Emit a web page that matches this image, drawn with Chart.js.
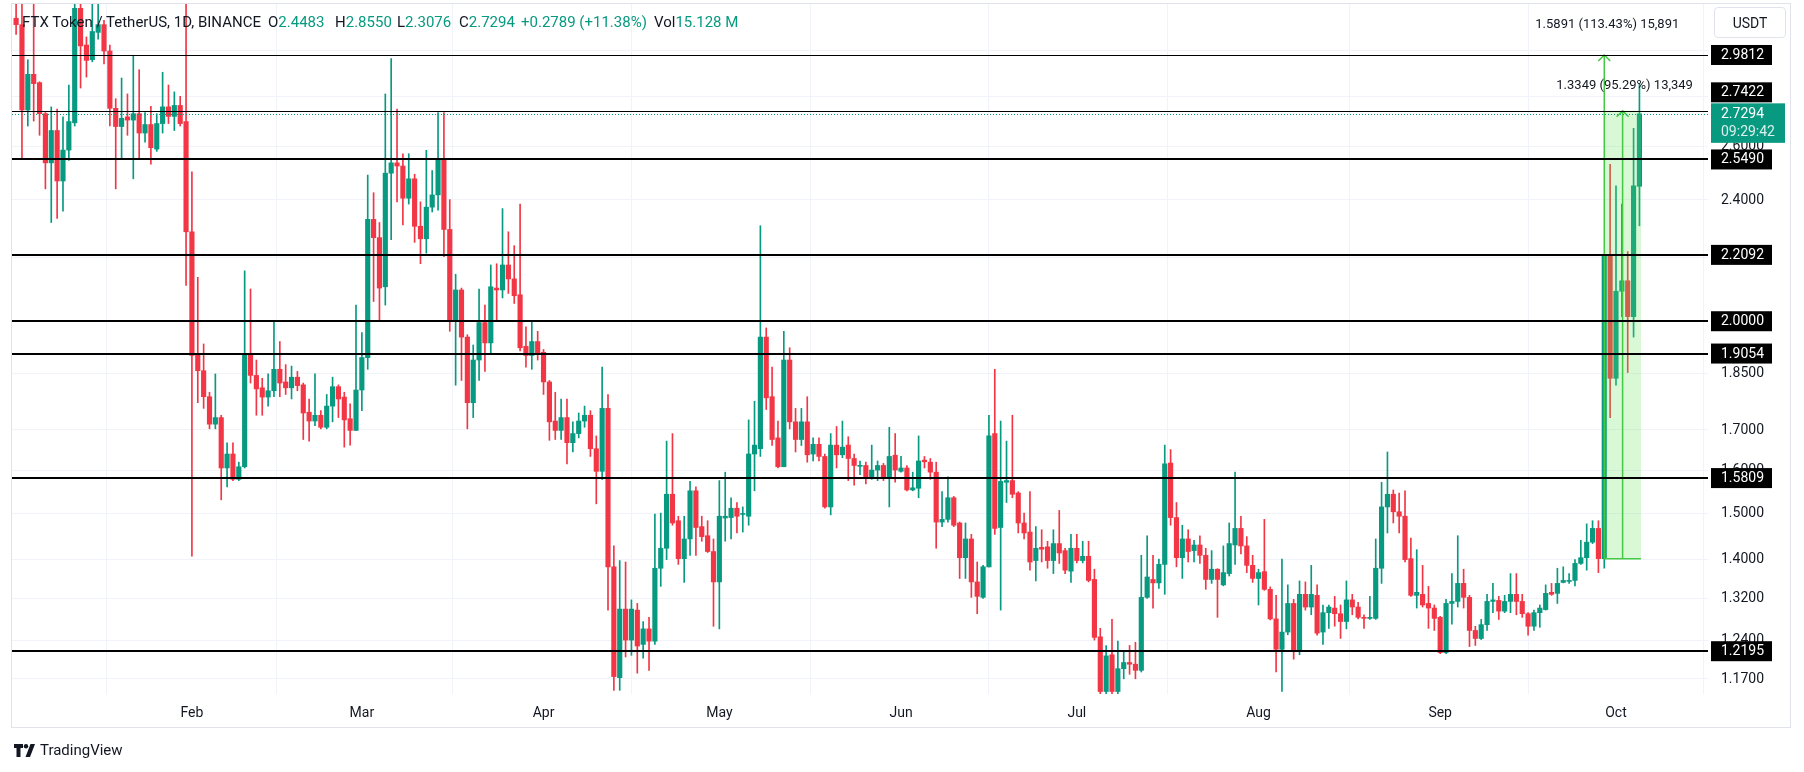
<!DOCTYPE html>
<html>
<head>
<meta charset="utf-8">
<script src="https://cdn.jsdelivr.net/npm/chart.js@4.4.1/dist/chart.umd.min.js"></script>
<style>
  html, body { margin: 0; padding: 0; background: #fff; }
  #wrap { position: relative; width: 1804px; height: 772px; overflow: hidden; }
  #legend span { position: absolute; top: 13px; font: 15px Roboto, sans-serif; color: #131722; white-space: pre; line-height: 18px; }
  #legend .v { color: #089981; }
  #unit { position: absolute; left: 1714px; top: 7px; width: 72px; height: 31px; box-sizing: border-box;
          border: 1px solid #e0e3eb; border-radius: 4px; font: 14px Roboto, sans-serif; color: #131722;
          display: flex; align-items: center; justify-content: center; }
  #footer { position: absolute; left: 14px; top: 740px; height: 20px; display: flex; align-items: center; gap: 4px;
            font: 15px Roboto, sans-serif; color: #131722; }
</style>
</head>
<body>
<div id="wrap">
  <canvas id="chart" width="1804" height="772"></canvas>
  <div id="legend">
    <span style="left:22px">FTX Token / TetherUS, 1D, BINANCE</span>
    <span style="left:268px">O<b class="v" style="font-weight:400">2.4483</b></span>
    <span style="left:335px">H<b class="v" style="font-weight:400">2.8550</b></span>
    <span style="left:397px">L<b class="v" style="font-weight:400">2.3076</b></span>
    <span style="left:459px">C<b class="v" style="font-weight:400">2.7294</b></span>
    <span style="left:521px" class="v">+0.2789 (+11.38%)</span>
    <span style="left:654px">Vol<b class="v" style="font-weight:400">15.128 M</b></span>
  </div>
  <div id="unit">USDT</div>
  <div id="footer">
    <svg width="22" height="13" viewBox="0 0 22 13"><path d="M0 0h9v4H6.5v9h-4V4H0z" fill="#131722"/><circle cx="12" cy="2.2" r="2.2" fill="#131722"/><path d="M16.5 0H21l-5 13h-4.5z" fill="#131722"/></svg>
    <span>TradingView</span>
  </div>
</div>
<script>
// daily candles, 2 Jan 2024 -> 5 Oct 2024
const opens = [
  3.150,3.120,2.745,2.896,2.860,2.730,2.536,2.662,2.468,2.585,
  2.693,3.197,3.026,2.960,3.084,3.120,2.999,2.752,2.678,2.717,
  2.704,2.730,2.652,2.686,2.589,2.690,2.758,2.719,2.764,2.698,
  2.287,1.906,1.857,1.786,1.714,1.731,1.605,1.639,1.578,1.608,
  1.904,1.844,1.810,1.785,1.802,1.861,1.826,1.810,1.839,1.818,
  1.745,1.722,1.737,1.706,1.761,1.813,1.785,1.728,1.698,1.804,
  1.894,2.330,2.267,2.106,2.497,2.536,2.524,2.405,2.476,2.306,
  2.263,2.373,2.417,2.549,2.295,2.003,2.096,1.953,1.770,1.887,
  1.996,1.936,2.102,2.096,2.176,2.131,2.081,1.926,1.900,1.940,
  1.909,1.826,1.722,1.698,1.731,1.667,1.690,1.722,1.737,1.652,
  1.597,1.755,1.384,1.172,1.299,1.240,1.297,1.232,1.261,1.238,
  1.381,1.423,1.543,1.483,1.401,1.443,1.551,1.470,1.450,1.416,
  1.353,1.489,1.490,1.511,1.497,1.493,1.639,1.652,1.953,1.786,
  1.679,1.608,1.887,1.720,1.675,1.720,1.639,1.663,1.633,1.514,
  1.661,1.637,1.661,1.628,1.609,1.611,1.582,1.600,1.611,1.582,
  1.636,1.597,1.605,1.553,1.557,1.624,1.619,1.595,1.480,1.486,
  1.535,1.478,1.403,1.443,1.353,1.322,1.384,1.690,1.468,1.571,
  1.575,1.546,1.478,1.458,1.397,1.425,1.426,1.397,1.433,1.418,
  1.375,1.423,1.397,1.406,1.358,1.246,1.148,1.213,1.148,1.188,
  1.199,1.196,1.185,1.322,1.358,1.351,1.389,1.617,1.490,1.403,
  1.443,1.418,1.430,1.408,1.358,1.379,1.347,1.370,1.430,1.466,
  1.428,1.387,1.360,1.374,1.338,1.280,1.223,1.255,1.310,1.219,
  1.328,1.303,1.326,1.255,1.292,1.301,1.290,1.275,1.317,1.303,
  1.283,1.281,1.281,1.381,1.514,1.543,1.503,1.493,1.401,1.326,
  1.328,1.310,1.301,1.283,1.217,1.310,1.314,1.350,1.322,1.258,
  1.243,1.269,1.314,1.316,1.295,1.314,1.328,1.314,1.290,1.266,
  1.292,1.298,1.332,1.330,1.352,1.354,1.356,1.391,1.403,1.436,
  1.466,1.401,2.205,1.836,2.092,2.125,2.014,2.4483
];
const highs = [
  3.300,3.300,2.960,3.300,2.864,2.735,2.758,2.749,2.717,2.850,
  3.300,3.300,3.063,3.300,3.300,3.140,3.026,2.792,2.880,2.812,
  2.980,2.916,2.735,2.760,2.730,2.905,2.850,2.821,2.802,3.300,
  2.502,2.136,1.933,1.798,1.848,1.737,1.667,1.667,1.619,2.157,
  2.099,1.887,1.836,1.848,2.000,1.940,1.874,1.870,1.855,1.823,
  1.780,1.848,1.749,1.792,1.839,1.818,1.798,1.767,2.049,1.966,
  2.490,2.425,2.319,2.812,2.965,2.749,2.571,2.571,2.493,2.392,
  2.584,2.507,2.735,2.735,2.400,2.146,2.102,1.960,1.930,2.099,
  2.049,2.176,2.180,2.368,2.287,2.240,2.384,1.983,2.000,1.970,
  1.917,1.830,1.798,1.780,1.780,1.720,1.743,1.761,1.749,1.684,
  1.867,1.792,1.428,1.397,1.394,1.317,1.310,1.275,1.283,1.498,
  1.500,1.671,1.690,1.493,1.493,1.573,1.560,1.493,1.483,1.443,
  1.575,1.595,1.535,1.524,1.514,1.725,1.774,2.308,1.980,1.867,
  1.722,1.970,1.922,1.755,1.755,1.786,1.679,1.679,1.639,1.690,
  1.708,1.722,1.682,1.639,1.622,1.619,1.661,1.622,1.616,1.706,
  1.690,1.633,1.611,1.595,1.684,1.633,1.628,1.619,1.549,1.584,
  1.538,1.480,1.478,1.453,1.394,1.387,1.737,1.861,1.722,1.671,
  1.737,1.549,1.500,1.549,1.470,1.463,1.438,1.463,1.506,1.423,
  1.453,1.453,1.438,1.438,1.379,1.262,1.230,1.279,1.238,1.220,
  1.230,1.236,1.408,1.450,1.408,1.400,1.661,1.650,1.524,1.473,
  1.463,1.440,1.450,1.423,1.418,1.380,1.428,1.478,1.595,1.493,
  1.448,1.408,1.379,1.486,1.343,1.326,1.400,1.347,1.318,1.355,
  1.353,1.387,1.347,1.307,1.307,1.324,1.307,1.355,1.328,1.312,
  1.288,1.324,1.443,1.571,1.644,1.553,1.546,1.551,1.445,1.420,
  1.387,1.344,1.307,1.285,1.318,1.370,1.450,1.379,1.326,1.266,
  1.279,1.328,1.350,1.324,1.326,1.370,1.370,1.328,1.292,1.297,
  1.307,1.347,1.350,1.381,1.384,1.370,1.399,1.440,1.476,1.483,
  1.483,2.210,2.530,2.450,2.384,2.220,2.671,2.8550
];
const lows = [
  3.075,2.554,2.680,2.700,2.643,2.439,2.319,2.333,2.359,2.545,
  2.680,2.837,2.884,2.951,3.053,2.941,2.680,2.439,2.554,2.643,
  2.476,2.554,2.616,2.531,2.580,2.652,2.690,2.662,2.680,2.110,
  1.406,1.770,1.755,1.702,1.702,1.530,1.560,1.575,1.575,1.605,
  1.823,1.737,1.737,1.761,1.786,1.786,1.792,1.780,1.802,1.675,
  1.671,1.710,1.702,1.702,1.720,1.731,1.656,1.661,1.698,1.749,
  1.861,2.060,2.000,2.049,2.260,2.392,2.311,2.384,2.251,2.180,
  2.215,2.356,2.362,2.203,1.970,1.817,1.830,1.702,1.731,1.830,
  1.855,1.904,2.003,2.071,2.085,2.054,1.913,1.867,1.861,1.887,
  1.792,1.673,1.675,1.675,1.615,1.644,1.679,1.706,1.633,1.521,
  1.578,1.297,1.150,1.150,1.209,1.212,1.180,1.207,1.185,1.232,
  1.344,1.399,1.473,1.389,1.352,1.408,1.408,1.438,1.414,1.266,
  1.261,1.438,1.443,1.456,1.458,1.473,1.551,1.633,1.752,1.660,
  1.605,1.608,1.702,1.644,1.660,1.619,1.622,1.622,1.511,1.496,
  1.605,1.630,1.575,1.564,1.589,1.567,1.578,1.575,1.575,1.514,
  1.571,1.595,1.551,1.551,1.535,1.605,1.578,1.423,1.470,1.480,
  1.470,1.360,1.360,1.322,1.290,1.320,1.384,1.453,1.297,1.524,
  1.535,1.456,1.443,1.377,1.355,1.394,1.381,1.370,1.391,1.370,
  1.352,1.392,1.392,1.353,1.240,1.140,1.140,1.140,1.140,1.170,
  1.178,1.170,1.182,1.320,1.301,1.340,1.328,1.473,1.384,1.360,
  1.394,1.394,1.391,1.338,1.350,1.283,1.345,1.365,1.389,1.411,
  1.372,1.352,1.307,1.336,1.278,1.182,1.148,1.250,1.205,1.213,
  1.297,1.288,1.249,1.232,1.262,1.266,1.243,1.261,1.288,1.280,
  1.262,1.279,1.279,1.350,1.456,1.478,1.456,1.394,1.324,1.301,
  1.303,1.262,1.258,1.215,1.215,1.270,1.303,1.301,1.228,1.230,
  1.241,1.258,1.292,1.279,1.292,1.292,1.288,1.283,1.249,1.258,
  1.264,1.297,1.326,1.310,1.351,1.350,1.345,1.389,1.377,1.433,
  1.372,1.381,1.731,1.817,2.014,1.852,1.953,2.3076
];
const closes = [
  3.120,2.745,2.896,2.856,2.730,2.536,2.662,2.468,2.585,2.698,
  3.197,3.022,2.957,3.088,3.120,2.999,2.752,2.678,2.711,2.704,
  2.730,2.652,2.686,2.594,2.690,2.758,2.719,2.764,2.690,2.287,
  1.900,1.857,1.786,1.714,1.731,1.605,1.639,1.578,1.608,1.904,
  1.844,1.807,1.785,1.802,1.861,1.823,1.810,1.839,1.816,1.743,
  1.722,1.737,1.706,1.761,1.813,1.780,1.725,1.698,1.804,1.894,
  2.330,2.267,2.102,2.497,2.536,2.524,2.405,2.476,2.306,2.263,
  2.373,2.417,2.549,2.295,2.003,2.096,1.953,1.770,1.887,1.996,
  1.936,2.106,2.096,2.176,2.131,2.078,1.922,1.900,1.940,1.906,
  1.826,1.720,1.698,1.731,1.667,1.690,1.722,1.737,1.652,1.597,
  1.755,1.384,1.174,1.299,1.240,1.299,1.229,1.261,1.238,1.381,
  1.423,1.543,1.478,1.401,1.443,1.551,1.468,1.448,1.416,1.353,
  1.493,1.493,1.511,1.493,1.499,1.639,1.661,1.953,1.783,1.675,
  1.608,1.887,1.720,1.675,1.720,1.637,1.663,1.633,1.514,1.661,
  1.637,1.656,1.628,1.611,1.611,1.582,1.600,1.611,1.584,1.633,
  1.600,1.605,1.553,1.558,1.622,1.620,1.595,1.480,1.486,1.535,
  1.473,1.403,1.443,1.353,1.324,1.384,1.684,1.466,1.573,1.575,
  1.543,1.478,1.456,1.394,1.423,1.421,1.397,1.433,1.413,1.377,
  1.423,1.397,1.406,1.356,1.245,1.148,1.211,1.148,1.188,1.199,
  1.196,1.185,1.322,1.363,1.351,1.389,1.615,1.490,1.403,1.443,
  1.416,1.430,1.408,1.358,1.379,1.358,1.372,1.433,1.466,1.428,
  1.387,1.360,1.372,1.338,1.280,1.223,1.255,1.310,1.221,1.328,
  1.303,1.328,1.253,1.292,1.303,1.290,1.275,1.317,1.303,1.283,
  1.281,1.283,1.381,1.514,1.543,1.503,1.493,1.399,1.326,1.332,
  1.307,1.301,1.281,1.217,1.310,1.314,1.350,1.322,1.258,1.243,
  1.269,1.314,1.317,1.295,1.314,1.328,1.314,1.290,1.266,1.292,
  1.301,1.330,1.328,1.350,1.356,1.356,1.391,1.403,1.436,1.466,
  1.401,2.205,1.836,2.092,2.125,2.014,2.450,2.7294
];

// month starts (candle index) and their labels
const monthStarts = [30, 59, 90, 120, 151, 181, 212, 243, 273];
const monthNames = ['Feb', 'Mar', 'Apr', 'May', 'Jun', 'Jul', 'Aug', 'Sep', 'Oct'];

// price scale ticks
const priceTicks = [3.0, 2.8, 2.6, 2.4, 2.2, 2.0, 1.85, 1.7, 1.6, 1.5, 1.4, 1.32, 1.24, 1.17];

// horizontal levels drawn on the chart
const levels = [2.9812, 2.7422, 2.549, 2.2092, 2.0, 1.9054, 1.5809, 1.2195];
const lastPrice = 2.7294;
const countdown = '09:29:42';

// price range measurements
const rangeFrom = 271, rangeTo = 277;
const rangeBase = 1.401;
const rangeTops = [2.9812, 2.7422];
const rangeTexts = ['1.5891 (113.43%) 15,891', '1.3349 (95.29%) 13,349'];

const UP = '#089981', DOWN = '#F23645';
const candleColors = closes.map((c, i) => c >= opens[i] ? UP : DOWN);

const overlay = {
  id: 'overlay',
  afterDatasetsDraw(chart) {
    const { ctx, chartArea: a, scales: { x, y } } = chart;
    ctx.save();
    ctx.beginPath();
    ctx.rect(a.left, 0, a.right - a.left, a.bottom);
    ctx.clip();

    // price range tool
    const x0 = x.getPixelForValue(rangeFrom), x1 = x.getPixelForValue(rangeTo) + 1.5;
    const xm = (x0 + x1) / 2;
    const yb = y.getPixelForValue(rangeBase);
    const yt = rangeTops.map(v => y.getPixelForValue(v));
    ctx.fillStyle = 'rgba(100, 226, 90, 0.25)';
    ctx.fillRect(x0, yt[1], x1 - x0, yb - yt[1]);
    ctx.strokeStyle = '#43c943';
    ctx.lineWidth = 1.5;
    const arrow = (ax, top) => {
      ctx.beginPath();
      ctx.moveTo(ax, yb); ctx.lineTo(ax, top);
      ctx.moveTo(ax - 6, top + 6); ctx.lineTo(ax, top); ctx.lineTo(ax + 6, top + 6);
      ctx.stroke();
    };
    ctx.beginPath(); ctx.moveTo(x0, yb); ctx.lineTo(x1, yb); ctx.stroke();
    arrow(x0, yt[0]);
    arrow(xm, yt[1]);

    // horizontal levels
    ctx.strokeStyle = '#000';
    levels.forEach(v => {
      const w = v > 2.7 ? 1 : 2;
      const py = Math.round(y.getPixelForValue(v)) + (w === 1 ? 0.5 : 0);
      ctx.lineWidth = w;
      ctx.beginPath(); ctx.moveTo(a.left, py); ctx.lineTo(a.right, py); ctx.stroke();
    });

    // last price dotted line
    const yl = Math.round(y.getPixelForValue(lastPrice)) + 0.5;
    ctx.strokeStyle = UP;
    ctx.lineWidth = 1;
    ctx.setLineDash([1, 2]);
    ctx.beginPath(); ctx.moveTo(a.left, yl); ctx.lineTo(a.right, yl); ctx.stroke();
    ctx.setLineDash([]);
    ctx.restore();

    // range texts
    ctx.save();
    ctx.font = '13px Roboto, sans-serif';
    ctx.fillStyle = '#131722';
    ctx.textAlign = 'center';
    ctx.textBaseline = 'middle';
    ctx.fillText(rangeTexts[0], x0 + 3, yt[0] - 30);
    ctx.fillText(rangeTexts[1], xm + 2, yt[1] - 25);
    ctx.restore();
  },
  afterDraw(chart) {
    const { ctx, chartArea: a, scales: { y } } = chart;
    ctx.save();
    ctx.font = '14px Roboto, sans-serif';
    ctx.textBaseline = 'middle';
    const bx = a.right + 3, textX = a.right + 13;

    const yl = y.getPixelForValue(lastPrice);
    const curTop = yl - 10.5, curBottom = yl + 29;
    const boxes = levels.map(v => {
      let py = y.getPixelForValue(v);
      if (py + 10 > curTop && py - 10 < curBottom) py = curTop - 11;
      return py;
    });

    // price scale labels (those sitting right under a level label are hidden)
    ctx.fillStyle = '#131722';
    priceTicks.forEach(v => {
      const py = y.getPixelForValue(v);
      if (boxes.some(b => Math.abs(b - py) < 6)) return;
      ctx.fillText(v.toFixed(4), textX, py + 0.5);
    });

    levels.forEach((v, i) => {
      const py = boxes[i];
      ctx.fillStyle = '#000';
      ctx.fillRect(bx, py - 10, 61, 20);
      ctx.fillStyle = '#fff';
      ctx.fillText(v.toFixed(4), textX, py + 0.5);
    });
    ctx.fillStyle = UP;
    ctx.fillRect(bx, curTop, 74, curBottom - curTop);
    ctx.fillStyle = '#fff';
    ctx.fillText(lastPrice.toFixed(4), textX, yl + 0.5);
    ctx.fillStyle = 'rgba(255,255,255,0.85)';
    ctx.fillText(countdown, textX, yl + 18.5);

    // frame
    ctx.strokeStyle = '#e0e3eb';
    ctx.lineWidth = 1;
    ctx.strokeRect(11.5, 3.5, 1779, 724);
    ctx.restore();
  }
};

new Chart('chart', {
  type: 'bar',
  data: {
    datasets: [
      {
        data: opens.map((o, i) => ({ x: i, y: [o, closes[i]] })),
        backgroundColor: candleColors,
        barThickness: 4.5,
        minBarLength: 1,
        grouped: false
      },
      {
        data: lows.map((l, i) => ({ x: i, y: [l, highs[i]] })),
        backgroundColor: candleColors,
        barThickness: 1,
        grouped: false
      }
    ]
  },
  options: {
    responsive: false,
    animation: false,
    devicePixelRatio: 1,
    layout: { padding: { left: 12, top: 4, right: 14, bottom: 45 } },
    plugins: { legend: { display: false }, tooltip: { enabled: false } },
    scales: {
      x: {
        type: 'linear',
        min: -0.7,
        max: 288.7,
        offset: false,
        border: { display: false },
        grid: { color: '#f0f3fa', drawTicks: false },
        afterBuildTicks: s => { s.ticks = monthStarts.map(v => ({ value: v })); },
        afterFit: s => { s.height = 33; },
        ticks: {
          autoSkip: false,
          maxRotation: 0,
          padding: 11,
          color: '#131722',
          font: { family: 'Roboto', size: 14 },
          callback: v => monthNames[monthStarts.indexOf(v)]
        }
      },
      y: {
        type: 'logarithmic',
        position: 'right',
        min: 1.1437,
        max: 3.218,
        border: { display: false },
        grid: { color: '#f0f3fa', drawTicks: false },
        afterBuildTicks: s => { s.ticks = priceTicks.map(v => ({ value: v })); },
        afterFit: s => { s.width = 82; },
        ticks: { display: false }
      }
    }
  },
  plugins: [overlay]
});
</script>
</body>
</html>
